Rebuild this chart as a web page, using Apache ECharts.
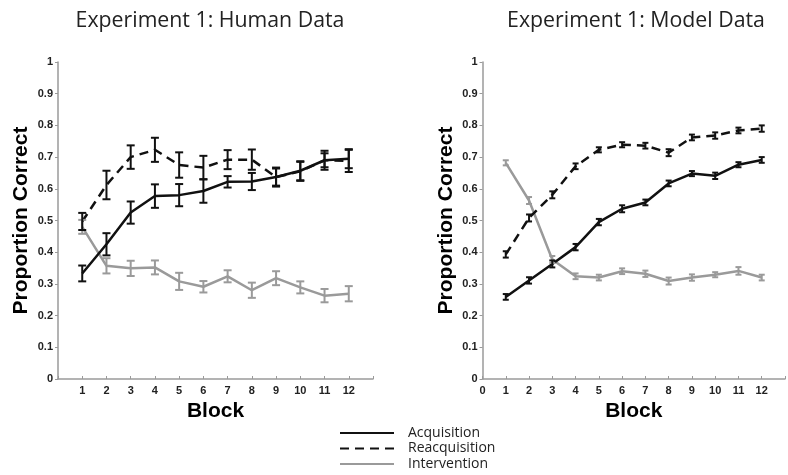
<!DOCTYPE html>
<html>
<head>
<meta charset="utf-8">
<script src="https://cdn.jsdelivr.net/npm/echarts@6/dist/echarts.min.js"></script>
<style>html,body{margin:0;padding:0;background:#fff}#c{width:788px;height:475px}</style>
</head>
<body>
<div id="c"></div>
<script>
const blocks = [1,2,3,4,5,6,7,8,9,10,11,12];
const xTickLabels = ['0','1','2','3','4','5','6','7','8','9','10','11','12'];
const yTickLabels = ['0','0.1','0.2','0.3','0.4','0.5','0.6','0.7','0.8','0.9','1'];
const seriesNames = ['Acquisition','Reacquisition','Intervention'];
const titles = ['Experiment 1: Human Data','Experiment 1: Model Data'];

// Human data
const humanAcq    = [0.333,0.425,0.525,0.577,0.580,0.593,0.622,0.623,0.637,0.657,0.690,0.695];
const humanAcqErr = [0.025,0.035,0.035,0.037,0.035,0.037,0.018,0.027,0.027,0.030,0.022,0.030];
const humanRea    = [0.497,0.612,0.700,0.723,0.675,0.667,0.692,0.692,0.637,0.655,0.690,0.688];
const humanReaErr = [0.027,0.045,0.037,0.038,0.040,0.037,0.030,0.032,0.030,0.030,0.030,0.035];
const humanInt    = [0.480,0.357,0.349,0.352,0.308,0.291,0.324,0.280,0.318,0.289,0.263,0.269];
const humanIntErr = [0.022,0.024,0.024,0.022,0.027,0.018,0.019,0.024,0.022,0.019,0.021,0.024];

// Model data
const modelAcq    = [0.259,0.311,0.363,0.416,0.495,0.537,0.557,0.617,0.648,0.641,0.676,0.691];
const modelAcqErr = [0.009,0.010,0.011,0.010,0.010,0.011,0.009,0.009,0.008,0.010,0.008,0.009];
const modelRea    = [0.393,0.508,0.581,0.671,0.723,0.739,0.736,0.714,0.762,0.768,0.784,0.790];
const modelReaErr = [0.010,0.011,0.011,0.009,0.008,0.008,0.009,0.011,0.009,0.010,0.009,0.010];
const modelInt    = [0.682,0.563,0.377,0.324,0.320,0.340,0.332,0.309,0.320,0.329,0.341,0.320];
const modelIntErr = [0.008,0.011,0.011,0.009,0.009,0.009,0.010,0.011,0.010,0.008,0.012,0.009];

const BLACK = '#111111', GRAY = '#9a9a9a';
const styles = [
  {color: BLACK, type: 'solid'},
  {color: BLACK, type: [9, 6]},
  {color: GRAY, type: 'solid'}
];

function pairs(vals){ return blocks.map((b,i)=>[b, vals[i]]); }
function triples(vals, errs){ return blocks.map((b,i)=>[b, vals[i], errs[i]]); }

function lineSeries(name, vals, st, gi){
  return {
    name: name, type: 'line', xAxisIndex: gi, yAxisIndex: gi,
    data: pairs(vals), symbol: 'none', smooth: false,
    lineStyle: {color: st.color, width: 2.5, type: st.type},
    itemStyle: {color: st.color},
    z: 3
  };
}
function errSeries(vals, errs, st, gi, cap){
  return {
    type: 'custom', xAxisIndex: gi, yAxisIndex: gi,
    data: triples(vals, errs),
    encode: {x: 0, y: 1},
    z: 4, silent: true,
    renderItem: function(params, api){
      const x = api.value(0), y = api.value(1), e = api.value(2);
      const hi = api.coord([x, y + e]);
      const lo = api.coord([x, y - e]);
      const s = {stroke: st.color, lineWidth: 2};
      return {type: 'group', children: [
        {type: 'line', shape: {x1: hi[0], y1: hi[1], x2: lo[0], y2: lo[1]}, style: s},
        {type: 'line', shape: {x1: hi[0]-cap, y1: hi[1], x2: hi[0]+cap, y2: hi[1]}, style: s},
        {type: 'line', shape: {x1: lo[0]-cap, y1: lo[1], x2: lo[0]+cap, y2: lo[1]}, style: s}
      ]};
    }
  };
}

const labelFont = {fontFamily: 'Liberation Sans, Arial, sans-serif', fontWeight: 'bold', fontSize: 11, color: '#222'};
const nameFont = {fontFamily: 'Liberation Sans, Arial, sans-serif', fontWeight: 'bold', fontSize: 21, color: '#000'};

function xAxis(gi, showZero){
  return {
    type: 'value', gridIndex: gi, min: 0, max: 13, interval: 1,
    name: 'Block', nameLocation: 'middle', nameGap: 16, nameTextStyle: nameFont,
    axisLine: {lineStyle: {color: GRAY, width: 1.5}},
    axisTick: {inside: true, length: 3, lineStyle: {color: GRAY, width: 1}},
    axisLabel: Object.assign({margin: 6, formatter: function(v){
      const idx = xTickLabels.indexOf(String(v));
      if (idx < 0) return '';
      if (v === 0 && !showZero) return '';
      return xTickLabels[idx];
    }}, labelFont),
    splitLine: {show: false}
  };
}
function yAxis(gi){
  return {
    type: 'value', gridIndex: gi, min: 0, max: 1, interval: 0.1,
    name: 'Proportion Correct', nameLocation: 'middle', nameGap: 26, nameTextStyle: nameFont,
    axisLine: {show: true, lineStyle: {color: GRAY, width: 1.5}},
    axisTick: {show: true, length: 3, lineStyle: {color: GRAY, width: 1}},
    axisLabel: Object.assign({margin: 5, formatter: function(v){
      const idx = Math.round(v*10);
      return yTickLabels[idx] !== undefined ? yTickLabels[idx] : '';
    }}, labelFont),
    splitLine: {show: false}
  };
}

const data = [
  [humanAcq, humanAcqErr, humanRea, humanReaErr, humanInt, humanIntErr],
  [modelAcq, modelAcqErr, modelRea, modelReaErr, modelInt, modelIntErr]
];
const series = [];
[0,1].forEach(function(gi){
  const d = data[gi];
  const cap = gi === 0 ? 4 : 3;
  for (let k = 2; k >= 0; k--) {
    series.push(lineSeries(seriesNames[k], d[2*k], styles[k], gi));
  }
  for (let k = 2; k >= 0; k--) {
    series.push(errSeries(d[2*k], d[2*k+1], styles[k], gi, cap));
  }
});

const titleFont = {fontFamily: 'Open Sans, sans-serif', fontWeight: 'normal', fontSize: 21.3, color: '#222'};

const option = {
  animation: false,
  backgroundColor: '#fff',
  title: [
    {text: titles[0], left: 205, top: 5, textAlign: 'center', textStyle: titleFont},
    {text: titles[1], left: 631, top: 5, textAlign: 'center', textStyle: titleFont}
  ],
  grid: [
    {left: 58, top: 62, width: 315, height: 317},
    {left: 482.5, top: 62, width: 316, height: 317}
  ],
  xAxis: [xAxis(0, false), xAxis(1, true)],
  yAxis: [yAxis(0), yAxis(1)],
  legend: {
    data: seriesNames, orient: 'vertical', left: 339, top: 426, height: 80, width: 200,
    itemWidth: 54, itemHeight: 14, itemGap: 1.5, padding: 0,
    itemStyle: {color: 'rgba(0,0,0,0)', borderWidth: 0, opacity: 0},
    textStyle: {fontFamily: 'Open Sans, sans-serif', fontSize: 14, color: '#222', padding: [0,0,0,9]}
  },
  series: series
};
const chart = echarts.init(document.getElementById('c'), null, {renderer: 'canvas'});
chart.setOption(option);
</script>
</body>
</html>
